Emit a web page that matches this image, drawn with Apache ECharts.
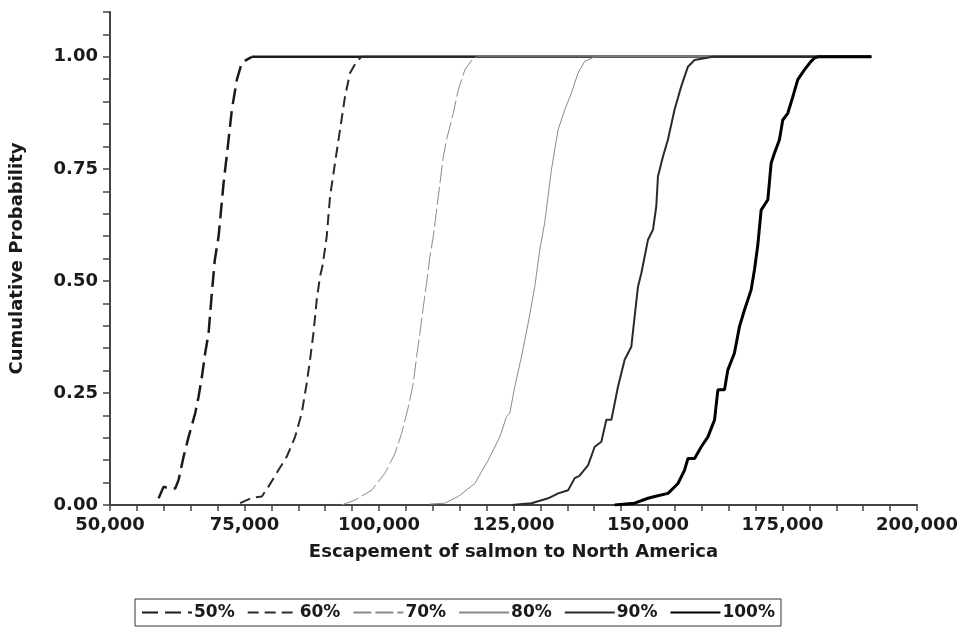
<!DOCTYPE html>
<html>
<head>
<meta charset="utf-8">
<script src="https://cdn.jsdelivr.net/npm/echarts@6/dist/echarts.min.js"></script>
<style>
  html, body { margin: 0; padding: 0; background: #fff; }
  #chart { width: 962px; height: 630px; }
</style>
</head>
<body>
<div id="chart"></div>
<script>
// Cumulative probability curves of salmon escapement for each scenario
const scenarioNames = ['50%', '60%', '70%', '80%', '90%', '100%'];

const esc50 = [59040, 59970, 60900, 62120, 62750, 63680, 64610, 65840, 66470, 67080, 67690, 68320, 68930, 69480, 70180, 71110, 71900, 72650, 73580, 74500, 76360];
const prob50 = [0.015, 0.041, 0.037, 0.037, 0.056, 0.108, 0.152, 0.205, 0.242, 0.286, 0.339, 0.383, 0.473, 0.547, 0.599, 0.718, 0.800, 0.882, 0.949, 0.987, 1.0];

const esc60 = [74190, 76360, 78220, 79460, 81320, 82860, 84400, 85640, 86570, 87180, 87810, 88430, 89040, 89540, 90280, 90900, 91820, 92750, 93680, 94610, 95850, 96780];
const prob60 = [0.004, 0.016, 0.019, 0.041, 0.078, 0.108, 0.152, 0.205, 0.272, 0.324, 0.383, 0.458, 0.510, 0.536, 0.599, 0.688, 0.763, 0.837, 0.911, 0.964, 0.990, 1.0];

const esc70 = [93070, 95540, 98640, 101110, 102970, 104210, 105450, 106380, 106990, 107600, 108240, 108850, 109460, 110090, 111020, 111950, 112560, 113800, 114730, 115960, 117520, 118300];
const prob70 = [0.0, 0.011, 0.033, 0.071, 0.115, 0.160, 0.219, 0.272, 0.331, 0.383, 0.443, 0.495, 0.554, 0.599, 0.688, 0.777, 0.815, 0.874, 0.926, 0.971, 0.997, 1.0];

const esc80 = [109400, 112190, 114730, 117810, 120300, 122450, 123700, 124310, 125240, 126480, 127730, 128950, 129880, 130790, 132050, 133290, 134520, 135760, 137000, 138240, 140090];
const prob80 = [0.002, 0.004, 0.019, 0.048, 0.100, 0.152, 0.197, 0.205, 0.264, 0.331, 0.406, 0.487, 0.569, 0.629, 0.748, 0.837, 0.882, 0.919, 0.964, 0.990, 1.0];

const esc90 = [124630, 128340, 131440, 133300, 135150, 136380, 137250, 138870, 140090, 141330, 142260, 143190, 144420, 145660, 146900, 147510, 148140, 148760, 150000, 150920, 151540, 151850, 152770, 153700, 154930, 156180, 157420, 158650, 160500, 162070];
const prob90 = [0.0, 0.004, 0.015, 0.026, 0.033, 0.060, 0.065, 0.089, 0.130, 0.141, 0.190, 0.190, 0.264, 0.324, 0.353, 0.420, 0.487, 0.517, 0.592, 0.614, 0.666, 0.733, 0.777, 0.815, 0.882, 0.934, 0.978, 0.993, 0.997, 1.0];

const esc100 = [143800, 147510, 150000, 151230, 153720, 155570, 156800, 157430, 158660, 159900, 161140, 162370, 162990, 164220, 164830, 166070, 167000, 167930, 169170, 169790, 170410, 171030, 172270, 172890, 173500, 174430, 175050, 175980, 176920, 177840, 179070, 180310, 180920, 181500];
const prob100 = [0.0, 0.004, 0.015, 0.019, 0.026, 0.048, 0.078, 0.104, 0.104, 0.130, 0.152, 0.190, 0.257, 0.257, 0.301, 0.339, 0.398, 0.435, 0.480, 0.525, 0.580, 0.658, 0.681, 0.763, 0.785, 0.815, 0.859, 0.874, 0.911, 0.949, 0.971, 0.990, 0.997, 1.0];

// every curve stays at 1.00 out to the last simulated escapement
const escapementEnd = 191500;

const escLists = [esc50, esc60, esc70, esc80, esc90, esc100];
const probLists = [prob50, prob60, prob70, prob80, prob90, prob100];

const styles = [
  { color: '#1a1a1a', width: 2.5, type: [16, 7] },
  { color: '#2a2a2a', width: 2, type: [11, 6] },
  { color: '#8a8a8a', width: 1, type: [18, 4] },
  { color: '#8a8a8a', width: 1, type: 'solid' },
  { color: '#2a2a2a', width: 2, type: 'solid' },
  { color: '#000000', width: 3, type: 'solid' }
];

const FONT = 'DejaVu Sans';
const TEXT = '#1a1a1a';

const fmtThousands = v => String(v).replace(/\B(?=(\d{3})+(?!\d))/g, ',');

const series = [];
// solid plateau at 1.00 for each curve
escLists.forEach((xs, i) => {
  const last = xs.length - 1;
  series.push({
    type: 'line',
    name: scenarioNames[i] + ' plateau',
    data: [[xs[last], probLists[i][last]], [escapementEnd, probLists[i][last]]],
    symbol: 'none',
    silent: true,
    lineStyle: { color: styles[i].color, width: styles[i].width, type: 'solid' },
    z: 2
  });
});
escLists.forEach((xs, i) => {
  series.push({
    type: 'line',
    name: scenarioNames[i],
    data: xs.map((x, k) => [x, probLists[i][k]]),
    symbol: 'none',
    showSymbol: false,
    color: styles[i].color,
    lineStyle: { color: styles[i].color, width: styles[i].width, type: styles[i].type },
    z: 3 + i
  });
});

const chart = echarts.init(document.getElementById('chart'), null, { renderer: 'canvas' });
chart.setOption({
  animation: false,
  backgroundColor: '#ffffff',
  grid: { left: 108, right: 45, top: 12, bottom: 125, containLabel: false },
  legend: {
    data: scenarioNames,
    left: 135,
    top: 599,
    orient: 'horizontal',
    itemWidth: 50,
    itemHeight: 14,
    itemGap: 12,
    padding: [5, 6],
    borderColor: '#333',
    borderWidth: 1,
    selectedMode: false,
    itemStyle: { opacity: 0 },
    textStyle: { fontFamily: FONT, fontWeight: 'bold', fontSize: 17, color: TEXT, padding: [0, 0, 0, -3] }
  },
  xAxis: {
    type: 'value',
    min: 50000,
    max: 200000,
    interval: 5000,
    name: 'Escapement of salmon to North America',
    nameLocation: 'middle',
    nameGap: 38,
    nameTextStyle: { fontFamily: FONT, fontWeight: 'bold', fontSize: 18, color: TEXT },
    axisLine: { lineStyle: { color: '#444', width: 2 } },
    axisTick: { show: true, length: 6, lineStyle: { color: '#444', width: 1.5 } },
    axisLabel: {
      fontFamily: FONT, fontWeight: 'bold', fontSize: 18, color: TEXT, margin: 11,
      showMinLabel: true, showMaxLabel: true,
      formatter: v => (v % 25000 === 0 ? fmtThousands(v) : '')
    },
    splitLine: { show: false }
  },
  yAxis: {
    type: 'value',
    min: 0,
    max: 1.1,
    interval: 0.05,
    name: 'Cumulative Probability',
    nameLocation: 'middle',
    nameGap: 84,
    nameRotate: 90,
    nameTextStyle: { fontFamily: FONT, fontWeight: 'bold', fontSize: 18, color: TEXT },
    axisLine: { show: true, lineStyle: { color: '#444', width: 2 } },
    axisTick: { show: true, length: 7, lineStyle: { color: '#444', width: 1.5 } },
    axisLabel: {
      fontFamily: FONT, fontWeight: 'bold', fontSize: 18, color: TEXT, margin: 12,
      formatter: v => {
        const q = Math.round(v * 100);
        return (q % 25 === 0 && q <= 100) ? (q / 100).toFixed(2) : '';
      }
    },
    splitLine: { show: false }
  },
  series: series
});
</script>
</body>
</html>
